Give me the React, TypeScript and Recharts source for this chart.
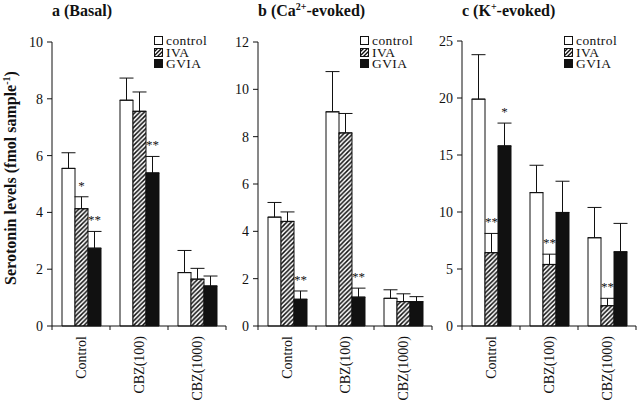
import React from 'react';
import { BarChart, Bar, XAxis, YAxis, ErrorBar, LabelList, Label } from 'recharts';

const groups = ['Control', 'CBZ(100)', 'CBZ(1000)'];
const seriesNames = ['control', 'IVA', 'GVIA'];

// a (Basal)
const basalControl = [5.55, 7.95, 1.88];
const basalControlSem = [0.55, 0.78, 0.78];
const basalIva = [4.13, 7.56, 1.65];
const basalIvaSem = [0.42, 0.68, 0.38];
const basalGvia = [2.74, 5.39, 1.41];
const basalGviaSem = [0.59, 0.58, 0.35];
const basalIvaSig = ['*', '', ''];
const basalGviaSig = ['**', '**', ''];
const basalTicks = [0, 2, 4, 6, 8, 10];

// b (Ca2+-evoked)
const caControl = [4.6, 9.05, 1.17];
const caControlSem = [0.62, 1.7, 0.36];
const caIva = [4.42, 8.16, 1.03];
const caIvaSem = [0.4, 0.82, 0.33];
const caGvia = [1.13, 1.22, 1.03];
const caGviaSem = [0.35, 0.38, 0.21];
const caIvaSig = ['', '', ''];
const caGviaSig = ['**', '**', ''];
const caTicks = [0, 2, 4, 6, 8, 10, 12];

// c (K+-evoked)
const kControl = [19.9, 11.7, 7.74];
const kControlSem = [3.9, 2.4, 2.66];
const kIva = [6.43, 5.4, 1.78];
const kIvaSem = [1.69, 0.9, 0.65];
const kGvia = [15.8, 9.96, 6.51];
const kGviaSem = [2.0, 2.74, 2.49];
const kIvaSig = ['**', '**', '**'];
const kGviaSig = ['*', '', ''];
const kTicks = [0, 5, 10, 15, 20, 25];

const FONT = '"Liberation Serif", "DejaVu Serif", "Times New Roman", serif';
const INK = '#111';

const buildRows = (
  c: number[], cs: number[], iv: number[], ivs: number[], g: number[], gs: number[],
  ivSig: string[], gSig: string[],
) =>
  groups.map((name, i) => ({
    name,
    control: c[i],
    controlErr: [0, cs[i]],
    iva: iv[i],
    ivaErr: [0, ivs[i]],
    ivaSig: ivSig[i],
    gvia: g[i],
    gviaErr: [0, gs[i]],
    gviaSig: gSig[i],
  }));

const GroupTick = (props: any) => {
  const { x, y, payload, index, visibleTicksCount } = props;
  const half = payload?.offset || 29;
  return (
    <g>
      <line x1={x - half} y1={y} x2={x - half} y2={y + 4} stroke={INK} />
      {index === visibleTicksCount - 1 && (
        <line x1={x + half} y1={y} x2={x + half} y2={y + 4} stroke={INK} />
      )}
      <text
        transform={`translate(${x + 5},${y + 10}) rotate(-90)`}
        textAnchor="end"
        fontFamily={FONT}
        fontSize={14}
        fill={INK}
      >
        {payload.value}
      </text>
    </g>
  );
};

const makeSigLabel = (rows: any[], valueKey: string, semKey: string) => (props: any) => {
  const { value, index } = props;
  if (!value) return null;
  const vb = props.viewBox || props;
  const x = vb.x ?? props.x;
  const y = vb.y ?? props.y;
  const w = vb.width ?? props.width;
  const h = vb.height ?? props.height;
  const row = rows[index];
  const mean = row[valueKey];
  const sem = row[semKey][1];
  const errTop = y - (sem * h) / mean;
  return (
    <text x={x + w / 2} y={errTop - 7} textAnchor="middle" fontFamily={FONT} fontSize={13} fill={INK}>
      {value}
    </text>
  );
};

const Swatch = ({ kind, id }: { kind: string; id: string }) => (
  <svg width={9} height={9} style={{ display: 'block' }}>
    <defs>
      <pattern id={id} patternUnits="userSpaceOnUse" width={4} height={4}>
        <rect width={4} height={4} fill="#fff" />
        <path d="M-1,1 l2,-2 M0,4 l4,-4 M3,5 l2,-2" stroke={INK} strokeWidth={1.4} />
      </pattern>
    </defs>
    <rect
      x={0.5}
      y={0.5}
      width={8}
      height={8}
      stroke={INK}
      fill={kind === 'control' ? '#fff' : kind === 'IVA' ? `url(#${id})` : INK}
    />
  </svg>
);

interface PanelProps {
  id: string;
  left: number;
  width: number;
  axisWidth: number;
  top: number;
  title: React.ReactNode;
  rows: any[];
  ticks: number[];
  showYLabel?: boolean;
}

const Panel: React.FC<PanelProps> = ({ id, left, width, axisWidth, top, title, rows, ticks, showYLabel }) => {
  const hatch = `hatch-${id}`;
  return (
    <div style={{ position: 'absolute', left, top: 0, width, height: 402 }}>
      <BarChart
        width={width}
        height={402}
        data={rows}
        margin={{ top, right: 4, bottom: 0, left: 0 }}
        barGap={0}
        barSize={13}
      >
        <defs>
          <pattern id={hatch} patternUnits="userSpaceOnUse" width={4.5} height={4.5}>
            <rect width={4.5} height={4.5} fill="#fff" />
            <path d="M-1,1 l2,-2 M0,4.5 l4.5,-4.5 M3.5,5.5 l2,-2" stroke={INK} strokeWidth={1.5} />
          </pattern>
        </defs>
        <XAxis
          dataKey="name"
          height={76}
          tickSize={0}
          tickMargin={0}
          tickLine={false}
          axisLine={{ stroke: INK }}
          tick={<GroupTick />}
          interval={0}
        />
        <YAxis
          width={axisWidth}
          domain={[0, ticks[ticks.length - 1]]}
          ticks={ticks}
          tickSize={5}
          tickMargin={4}
          axisLine={{ stroke: INK }}
          tickLine={{ stroke: INK }}
          tick={{ fill: INK, fontFamily: FONT, fontSize: 14 }}
        >
          {showYLabel && (
            <Label
              content={(p: any) => {
                const vb = p.viewBox;
                return (
                  <text
                    transform={`translate(${vb.x + 16},${vb.y + vb.height / 2 - 6}) rotate(-90)`}
                    textAnchor="middle"
                    fontFamily={FONT}
                    fontWeight="bold"
                    fontSize={16}
                    fill={INK}
                  >
                    Serotonin levels (fmol sample
                    <tspan dy={-6} fontSize={10}>-1</tspan>
                    <tspan dy={6}>)</tspan>
                  </text>
                );
              }}
            />
          )}
        </YAxis>
        <Bar dataKey="control" fill="#fff" stroke={INK} strokeWidth={1} isAnimationActive={false}>
          <ErrorBar dataKey="controlErr" width={7} stroke={INK} strokeWidth={1} isAnimationActive={false} />
        </Bar>
        <Bar dataKey="iva" fill={`url(#${hatch})`} stroke={INK} strokeWidth={1} isAnimationActive={false}>
          <ErrorBar dataKey="ivaErr" width={7} stroke={INK} strokeWidth={1} isAnimationActive={false} />
          <LabelList dataKey="ivaSig" content={makeSigLabel(rows, 'iva', 'ivaErr')} />
        </Bar>
        <Bar dataKey="gvia" fill={INK} stroke={INK} strokeWidth={1} isAnimationActive={false}>
          <ErrorBar dataKey="gviaErr" width={7} stroke={INK} strokeWidth={1} isAnimationActive={false} />
          <LabelList dataKey="gviaSig" content={makeSigLabel(rows, 'gvia', 'gviaErr')} />
        </Bar>
      </BarChart>
      <div
        style={{
          position: 'absolute',
          left: axisWidth,
          top: 3,
          fontFamily: FONT,
          fontWeight: 'bold',
          fontSize: 16,
          lineHeight: '16px',
          color: INK,
          whiteSpace: 'nowrap',
        }}
      >
        {title}
      </div>
      <div style={{ position: 'absolute', left: axisWidth + 102, top: 35, fontFamily: FONT, fontSize: 13.5, color: INK }}>
        {seriesNames.map((s) => (
          <div key={s} style={{ display: 'flex', alignItems: 'center', height: 11.5, lineHeight: '11.5px' }}>
            <Swatch kind={s} id={`sw-${id}-${s}`} />
            <span style={{ marginLeft: 3, letterSpacing: 0.4 }}>{s}</span>
          </div>
        ))}
      </div>
    </div>
  );
};

const basalRows = buildRows(basalControl, basalControlSem, basalIva, basalIvaSem, basalGvia, basalGviaSem, basalIvaSig, basalGviaSig);
const caRows = buildRows(caControl, caControlSem, caIva, caIvaSem, caGvia, caGviaSem, caIvaSig, caGviaSig);
const kRows = buildRows(kControl, kControlSem, kIva, kIvaSem, kGvia, kGviaSem, kIvaSig, kGviaSig);

const supStyle: React.CSSProperties = { fontSize: 10, verticalAlign: 'super', lineHeight: 0 };

export default function App() {
  return (
    <div style={{ position: 'absolute', left: 0, top: 0, width: 640, height: 402, background: '#fff' }}>
      <Panel id="a" left={0} width={230} axisWidth={52} top={42} title="a (Basal)" rows={basalRows} ticks={basalTicks} showYLabel />
      <Panel
        id="b"
        left={230}
        width={206}
        axisWidth={28}
        top={42}
        title={<>b (Ca<span style={supStyle}>2+</span>-evoked)</>}
        rows={caRows}
        ticks={caTicks}
      />
      <Panel
        id="c"
        left={436}
        width={204}
        axisWidth={26}
        top={41}
        title={<>c (K<span style={supStyle}>+</span>-evoked)</>}
        rows={kRows}
        ticks={kTicks}
      />
    </div>
  );
}
